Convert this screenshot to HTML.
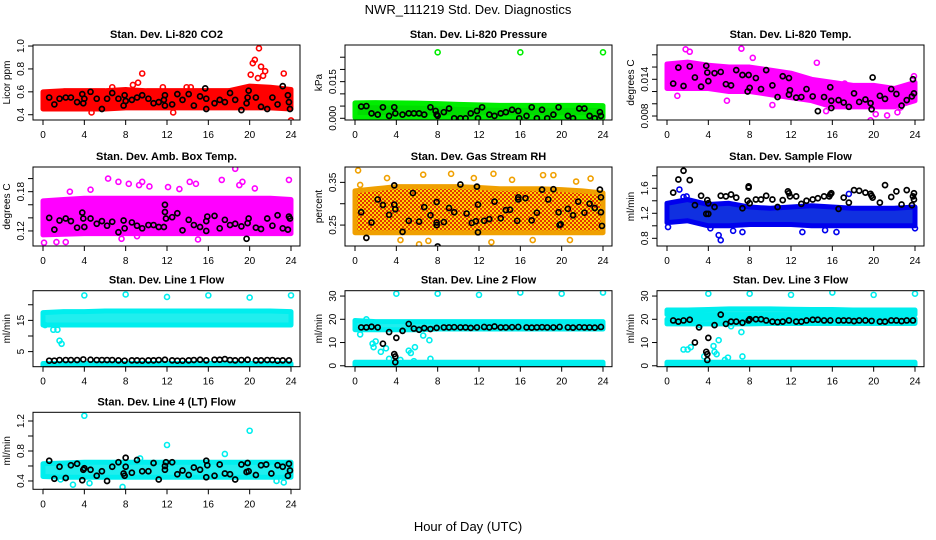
<!DOCTYPE html>
<html><head><meta charset="utf-8"><style>
body{margin:0;background:#fff}
svg{display:block;font-family:"Liberation Sans",Arial,sans-serif}
</style></head><body>
<svg id="chart" width="936" height="540" viewBox="0 0 936 540">
<defs>
<pattern id="rhpat" width="4" height="4" patternUnits="userSpaceOnUse">
<rect width="4" height="4" fill="#f8d800"/><rect width="2" height="2" fill="#e83000"/><rect x="2" y="2" width="2" height="2" fill="#e83000"/>
</pattern>
</defs>
<text x="468" y="14" text-anchor="middle" font-size="13">NWR_111219  Std. Dev. Diagnostics</text>
<text x="468" y="531" text-anchor="middle" font-size="13">Hour of Day (UTC)</text>
</svg>
<script>
const xTicks=[0,4,8,12,16,20,24];
const bandHours=[0,2,4,6,8,10,12,14,16,18,20,22,24];

// Panel 1 CO2
const co2Lo=[0.45,0.45,0.45,0.45,0.46,0.46,0.46,0.46,0.46,0.46,0.46,0.46,0.45];
const co2Hi=[0.6,0.61,0.61,0.61,0.62,0.61,0.61,0.61,0.61,0.61,0.65,0.64,0.62];
const co2Pts=[[9.6,0.76],[9.2,0.68],[8.7,0.66],[6.7,0.64],[20.3,0.85],[20.5,0.88],[20.9,0.98],[21.1,0.82],[21.5,0.78],[20.1,0.75],[20.8,0.72],[21.3,0.74],[23.3,0.76],[24,0.35],[12.6,0.42],[4.7,0.42],[14.3,0.64],[13.9,0.64],[11.6,0.64]];
const co2Blk=[[0.6,0.55],[1.1,0.49],[1.6,0.54],[2.2,0.55],[2.7,0.55],[3.3,0.51],[3.8,0.58],[3.9,0.50],[4.0,0.54],[4.6,0.6],[5.2,0.54],[5.7,0.45],[6.2,0.54],[6.7,0.59],[7.3,0.54],[7.8,0.48],[7.9,0.57],[8.0,0.52],[8.6,0.53],[9.1,0.55],[9.6,0.57],[10.2,0.54],[10.7,0.5],[11.2,0.51],[11.7,0.53],[11.8,0.57],[11.8,0.48],[12.5,0.49],[13.0,0.58],[13.5,0.53],[14.1,0.58],[14.6,0.48],[15.2,0.56],[15.7,0.63],[15.8,0.54],[15.8,0.45],[16.6,0.5],[17.1,0.53],[17.6,0.51],[18.1,0.59],[18.6,0.53],[19.2,0.44],[19.7,0.5],[19.8,0.55],[19.9,0.61],[20.6,0.55],[21.1,0.47],[21.7,0.45],[22.2,0.55],[22.7,0.49],[23.2,0.65],[23.7,0.57],[23.8,0.51],[23.9,0.45]];

// Panel 2 Pressure
const prLo=[0.0003,0.0003,0.0003,0.0003,0.0002,0.0002,0.0002,0.0002,0.0002,0.0002,0.0002,0.0002,0.0002];
const prHi=[0.0063,0.0064,0.0063,0.0062,0.006,0.0057,0.0055,0.0053,0.0053,0.0053,0.0053,0.0053,0.0052];
const prPts=[[8,0.027],[16,0.027],[24,0.027]];
const prBlk=[[0.6,0.0048],[1.1,0.005],[1.6,0.002],[2.2,0.0015],[2.7,0.0045],[3.3,0.001],[3.8,0.0045],[3.9,0.002],[4.6,0.0015],[5.2,0.002],[5.7,0.002],[6.2,0.002],[6.7,0.0015],[7.3,0.0045],[7.8,0.003],[7.9,0.0015],[8.0,0.001],[8.6,0.0025],[9.1,0.004],[9.6,0],[10.2,0],[10.7,0],[11.2,0.002],[11.8,0.003],[11.9,0],[12.3,0.0045],[13,0.0015],[13.5,0.001],[14.1,0.002],[14.6,0.0025],[15.2,0.0035],[15.8,0.003],[15.9,0],[16.6,0.001],[17.1,0.0045],[17.6,0],[18.1,0.0035],[18.6,0],[19.2,0.0015],[19.7,0.0045],[20.6,0.001],[21.1,0],[21.7,0.004],[22.2,0.004],[22.7,0.001],[23.2,0],[23.7,0.0025],[23.8,0.001]];

// Panel 3 Temp
const tLo=[0.0125,0.0125,0.0125,0.012,0.012,0.0115,0.011,0.0105,0.0095,0.0095,0.0095,0.0095,0.0105];
const tHi=[0.0165,0.0168,0.0163,0.016,0.016,0.0155,0.015,0.014,0.0135,0.013,0.013,0.0125,0.0135];
const tPts=[[1.8,0.0189],[2.2,0.0185],[7.2,0.019],[8.3,0.0175],[14.5,0.0167],[5.8,0.0105],[10.2,0.0098],[1.0,0.0113],[19.7,0.0073],[20.2,0.0083],[21.3,0.0081],[22.3,0.0086],[22.6,0.0094],[17.2,0.0133],[23.9,0.0145],[15.4,0.0088]];
const tBlk=[[0.6,0.0133],[1.1,0.0159],[1.6,0.0129],[2.2,0.0161],[2.7,0.0143],[3.3,0.0128],[3.8,0.0162],[3.9,0.0151],[4.0,0.0137],[4.6,0.015],[5.2,0.0152],[5.7,0.0132],[6.2,0.013],[6.7,0.0155],[7.3,0.0147],[7.9,0.0147],[7.8,0.012],[8.0,0.0126],[8.6,0.0142],[9.1,0.0124],[9.6,0.0155],[10.2,0.013],[10.7,0.0111],[11.2,0.0145],[11.8,0.0142],[11.8,0.0115],[11.9,0.0122],[12.5,0.011],[13,0.0111],[13.5,0.0124],[14.1,0.0112],[14.6,0.0088],[15.2,0.0111],[15.8,0.0127],[15.9,0.0105],[15.9,0.0093],[16.6,0.0106],[17.1,0.0102],[17.6,0.0095],[18.1,0.0117],[18.6,0.0103],[19.2,0.0107],[19.7,0.0101],[19.8,0.0091],[19.9,0.0143],[20.6,0.0113],[21.1,0.0108],[21.7,0.0124],[22.2,0.0116],[22.7,0.0097],[23.2,0.0106],[23.7,0.0112],[23.8,0.014],[23.9,0.0117]];

// Panel 4 Amb box
const abLo=[0.114,0.115,0.116,0.116,0.116,0.116,0.116,0.116,0.116,0.116,0.116,0.116,0.116];
const abHi=[0.166,0.168,0.17,0.17,0.17,0.17,0.17,0.17,0.17,0.17,0.17,0.17,0.168];
const abPts=[[0.1,0.102],[1.3,0.103],[2.2,0.103],[6.3,0.2],[7.3,0.195],[8.3,0.192],[9.3,0.19],[9.6,0.195],[10.3,0.188],[14.2,0.195],[14.8,0.192],[17.3,0.198],[18.6,0.215],[19,0.19],[19.3,0.195],[23.8,0.198],[15,0.107],[9.1,0.112],[7.6,0.108],[4.6,0.183],[2.6,0.18],[12.1,0.187],[13.2,0.184],[20.5,0.185]];
const abBlk=[[0.6,0.14],[1.1,0.122],[1.6,0.136],[2.2,0.139],[2.7,0.135],[3.3,0.125],[3.8,0.148],[3.9,0.139],[4.0,0.126],[4.6,0.139],[5.2,0.131],[5.7,0.135],[6.2,0.128],[6.7,0.134],[7.3,0.118],[7.8,0.136],[7.9,0.124],[8.6,0.133],[9.1,0.128],[9.6,0.124],[10.2,0.129],[10.7,0.129],[11.2,0.126],[11.7,0.126],[11.8,0.16],[11.8,0.149],[11.9,0.139],[12.5,0.141],[13,0.147],[13.5,0.121],[14.1,0.137],[14.6,0.129],[15.2,0.126],[15.8,0.12],[15.8,0.135],[15.9,0.142],[16.6,0.143],[17.1,0.124],[17.6,0.137],[18.1,0.129],[18.6,0.131],[19.2,0.127],[19.7,0.108],[19.8,0.132],[19.9,0.139],[20.6,0.125],[21.1,0.123],[21.7,0.139],[22.2,0.128],[22.7,0.144],[23.2,0.124],[23.7,0.122],[23.8,0.142],[23.9,0.139]];

// Panel 5 RH
const rhLo=[0.232,0.232,0.232,0.232,0.232,0.232,0.232,0.232,0.232,0.232,0.232,0.232,0.232];
const rhHi=[0.33,0.335,0.34,0.34,0.34,0.34,0.338,0.335,0.335,0.335,0.333,0.33,0.325];
const rhPts=[[0.3,0.378],[0.5,0.344],[3.1,0.36],[6.6,0.368],[7.1,0.213],[6.2,0.205],[9.3,0.37],[11.5,0.36],[13.4,0.37],[13.2,0.21],[15.2,0.356],[18.2,0.367],[19.2,0.367],[21.4,0.352],[22.8,0.359],[4.4,0.215],[17.2,0.215],[20.8,0.215],[1.1,0.22]];
const rhBlk=[[0.6,0.28],[1.1,0.22],[1.6,0.256],[2.2,0.31],[2.7,0.297],[3.3,0.274],[3.8,0.343],[3.9,0.287],[3.8,0.298],[4.6,0.234],[5.2,0.26],[5.6,0.325],[6.2,0.258],[6.7,0.292],[7.3,0.273],[7.9,0.256],[7.9,0.25],[7.9,0.304],[8.0,0.2],[8.6,0.257],[9.1,0.29],[9.6,0.28],[10.2,0.345],[10.8,0.277],[11.3,0.255],[11.7,0.259],[11.8,0.34],[11.9,0.233],[11.9,0.298],[12.5,0.26],[13.0,0.264],[13.5,0.305],[14.1,0.266],[14.6,0.285],[15.0,0.286],[15.7,0.26],[15.8,0.31],[15.8,0.315],[16.5,0.313],[17.1,0.261],[17.6,0.279],[18.1,0.333],[18.7,0.31],[19.2,0.334],[19.7,0.28],[19.8,0.25],[19.9,0.252],[20.6,0.288],[21.1,0.273],[21.6,0.305],[22.2,0.279],[22.7,0.3],[23.2,0.29],[23.7,0.333],[23.8,0.315],[23.9,0.248],[23.8,0.28]];

// Panel 6 Sample flow
const sfLo=[1.05,1.08,1.0,1.0,1.02,1.02,1.02,1.0,1.0,1.0,1.0,1.0,1.0];
const sfHi=[1.36,1.42,1.34,1.36,1.3,1.28,1.3,1.32,1.3,1.28,1.28,1.28,1.3];
const sfPts=[[0.1,0.98],[1.2,1.58],[5.0,0.85],[5.2,0.77],[4.2,0.96],[6.4,0.92],[7.3,0.9],[13.1,0.9],[16.4,0.9],[15.3,0.93],[17.6,1.51],[24.0,0.96],[1.6,1.46],[1.9,1.47]];
const sfBlk=[[0.6,1.53],[1.1,1.74],[1.6,1.88],[2.2,1.73],[2.7,1.33],[3.3,1.48],[3.8,1.19],[3.9,1.41],[4.0,1.36],[4.0,1.19],[4.6,1.3],[5.2,1.48],[5.7,1.47],[6.2,1.5],[6.7,1.45],[7.3,1.28],[7.9,1.63],[7.9,1.61],[7.8,1.4],[8.0,1.36],[8.6,1.42],[9.1,1.42],[9.6,1.48],[10.2,1.42],[10.7,1.3],[11.2,1.41],[11.7,1.55],[11.8,1.52],[11.9,1.47],[12.5,1.47],[13,1.35],[13.5,1.4],[14.1,1.42],[14.6,1.44],[15.2,1.47],[15.7,1.47],[15.8,1.5],[15.9,1.52],[16.6,1.27],[17.1,1.45],[17.6,1.37],[18.1,1.57],[18.6,1.56],[19.2,1.53],[19.7,1.51],[19.8,1.48],[19.9,1.45],[20.6,1.37],[21.1,1.65],[21.7,1.46],[22.2,1.55],[22.7,1.34],[23.2,1.57],[23.7,1.33],[23.8,1.47],[23.9,1.52],[23.9,1.42]];

// Panel 7 Line 1
const l1LoA=[13.5,13.5,13.5,13.5,13.5,13.5,13.5,13.5,13.5,13.5,13.5,13.5,13.5];
const l1HiA=[17.5,17.8,17.8,18,18,18,18,18,18,18,18,18,17.8];
const l1LoB=[0.3,0.3,0.3,0.3,0.3,0.3,0.3,0.3,0.3,0.3,0.3,0.3,0.3];
const l1HiB=[1.2,1.2,1.2,1.2,1.2,1.2,1.2,1.2,1.2,1.2,1.2,1.2,1.2];
const l1Pts=[[0.2,13.5],[1.0,12],[1.4,12],[1.6,8.5],[1.8,7.5],[4,23],[8,23.3],[12,22.5],[16,23],[20,22.3],[24,23]];
const l1Blk=[[0.6,2.1],[1.1,2.1],[1.6,2.3],[2.2,2.3],[2.7,2.3],[3.3,2.3],[3.9,2.5],[4.6,2.4],[5.2,2.3],[5.7,2.3],[6.2,2.3],[6.7,2.3],[7.3,2.2],[7.9,2.1],[8.6,2.2],[9.1,2.2],[9.6,2.1],[10.2,2.2],[10.7,2.2],[11.2,2.3],[11.8,2.4],[12.5,2.2],[13,2.1],[13.5,2.1],[14.1,2.2],[14.6,2.3],[15.2,2.4],[15.8,2.2],[16.6,2.4],[17.1,2.4],[17.6,2.6],[18.1,2.3],[18.6,2.2],[19.2,2.3],[19.8,2.4],[20.6,2.2],[21.1,2.2],[21.7,2.3],[22.2,2.3],[22.7,2.1],[23.2,2.2],[23.8,2.2]];

// Panel 8 Line 2
const l2LoA=[15.5,15.5,15.5,15.5,15.8,15.8,15.8,15.8,15.8,15.8,15.8,15.8,15.8];
const l2HiA=[19.5,19,19,19,19,19,19,19,19,19,19,19,19];
const l2LoB=[0,0,0,0,0,0,0,0,0,0,0,0,0];
const l2HiB=[1.5,1.5,1.5,1.5,1.5,1.5,1.5,1.5,1.5,1.5,1.5,1.5,1.5];
const l2Pts=[[0.5,13.5],[1.1,20],[1.5,18],[1.7,9.5],[1.8,8],[2.0,10.5],[2.5,6],[3.0,7.5],[3.3,3],[4,31],[4.4,2.5],[5.2,6.5],[5.4,5.5],[5.7,2],[5.8,8],[6.6,13],[7.2,11],[7.3,3],[8,31],[12,30.5],[16,31.5],[20,31],[24,31.5]];
const l2Blk=[[0.6,16.5],[1.1,16.5],[1.6,16.8],[2.2,16.5],[2.7,9.5],[3.3,14.5],[3.8,5],[3.9,4],[3.9,1.5],[4,12],[4.6,15],[5.2,18],[5.7,16],[6.2,15.5],[6.7,16.2],[7.3,15.8],[7.9,16.3],[8.6,16.5],[9.1,16.5],[9.6,16.6],[10.2,16.5],[10.7,16.5],[11.2,16.3],[11.8,16.5],[12.5,16.7],[13,16.5],[13.5,16.9],[14.1,16.5],[14.6,16.5],[15.2,16.6],[15.8,16.7],[16.6,16.5],[17.1,16.4],[17.6,16.5],[18.1,16.6],[18.6,16.5],[19.2,16.5],[19.8,16.7],[20.6,16.5],[21.1,16.4],[21.7,16.6],[22.2,16.5],[22.7,16.5],[23.2,16.4],[23.8,16.7]];

// Panel 9 Line 3
const l3LoA=[22,22,22,22,22,22,22,22,22,22,22,22,22];
const l3HiA=[24,24,24.2,24.5,24.5,24.5,24.3,24.2,24.2,24,24,24,24];
const l3LoM=[18,18,18,18,18,18.2,18.2,18.2,18.2,18.2,18.2,18.2,18.2];
const l3HiM=[20,20,20.5,20.5,20.5,20.5,20.3,20.3,20.3,20.3,20.3,20.3,20.3];
const l3LoB=[0,0,0,0,0,0,0,0,0,0,0,0,0];
const l3HiB=[1.5,1.5,1.5,1.5,1.5,1.5,1.5,1.5,1.5,1.5,1.5,1.5,1.5];
const l3Pts=[[1.6,7],[2.0,7],[2.3,8],[2.5,20],[3.2,17.5],[3.6,4],[4,31],[4.5,8.5],[4.6,6],[4.8,5],[5,11],[5.3,19],[5.6,2.5],[5.9,3.5],[6.2,17],[7.2,14.5],[7.3,4],[8,31],[12,30.5],[16,31.5],[20,30.5],[24,31]];
const l3Blk=[[0.6,19.5],[1.1,19],[1.6,19.5],[2.2,19.8],[2.7,10],[3.1,16.5],[3.8,6],[3.9,5],[3.9,2.5],[4,12],[4.6,17.5],[5.2,22],[5.7,18],[6.2,19],[6.7,19],[7.3,18.5],[7.9,19.5],[8,20],[8.6,20],[9.1,20],[9.6,19.5],[10.2,19],[10.7,18.8],[11.2,19],[11.8,19.5],[12.5,19],[13,19],[13.5,19.5],[14.1,19.8],[14.6,19.8],[15.2,19.5],[15.8,19.5],[16.6,19.5],[17.1,19.5],[17.6,19.5],[18.1,19.2],[18.6,19.5],[19.2,19.5],[19.8,19.3],[20.6,19],[21.1,19],[21.7,19.5],[22.2,19.5],[22.7,19.2],[23.2,19.5],[23.8,19.5]];

// Panel 10 Line 4
const l4Lo=[0.46,0.45,0.45,0.45,0.45,0.45,0.45,0.45,0.45,0.45,0.45,0.45,0.45];
const l4Hi=[0.63,0.64,0.65,0.65,0.65,0.65,0.65,0.65,0.65,0.65,0.65,0.65,0.65];
const l4Pts=[[4,1.27],[12,0.88],[20,1.07],[17.6,0.76],[2.9,0.35],[7.7,0.32],[4.5,0.37],[23.3,0.38],[22.6,0.4],[1.7,0.42],[9.4,0.7]];
const l4Blk=[[0.6,0.67],[1.1,0.43],[1.6,0.59],[2.2,0.44],[2.7,0.61],[3.3,0.63],[3.8,0.41],[3.9,0.55],[4.0,0.57],[4.6,0.55],[5.2,0.47],[5.7,0.53],[6.2,0.4],[6.7,0.59],[7.3,0.65],[7.8,0.5],[7.9,0.47],[8.0,0.71],[8.0,0.59],[8.6,0.51],[9.1,0.68],[9.6,0.53],[10.2,0.53],[10.7,0.64],[11.2,0.42],[11.8,0.6],[11.8,0.55],[11.9,0.65],[12.5,0.65],[13,0.49],[13.5,0.54],[14.1,0.48],[14.6,0.58],[15.2,0.55],[15.8,0.45],[15.8,0.67],[15.9,0.61],[16.6,0.47],[17.1,0.62],[17.6,0.5],[18.1,0.49],[18.6,0.42],[19.2,0.62],[19.7,0.52],[19.8,0.64],[19.9,0.53],[20.6,0.48],[21.1,0.61],[21.6,0.62],[22.1,0.5],[22.7,0.61],[23.2,0.59],[23.7,0.47],[23.8,0.63],[23.9,0.54]];

const colL=[33,345,657], boxW=267;
const rowT=[45,167,290.7,412.3], rowB=[120,246,366.7,489.3];
const NS='http://www.w3.org/2000/svg';
const svg=document.getElementById('chart');
function mk(tag,attrs,parent){const e=document.createElementNS(NS,tag);for(const k in attrs)e.setAttribute(k,attrs[k]);(parent||svg).appendChild(e);return e;}

const panels=[
 {c:0,r:0,key:'co2',title:'Stan. Dev. Li-820 CO2',yl:'Licor ppm',ymin:0.354,ymax:1.009,ticks:[0.4,0.6,0.8,1.0],labs:['0.4','0.6','0.8','1.0'],col:'#ff0000',fill:'#ff0000',bands:[[co2Lo,co2Hi]],pts:co2Pts,blk:co2Blk},
 {c:1,r:0,key:'pressure',title:'Stan. Dev. Li-820 Pressure',yl:'kPa',ymin:-0.0007,ymax:0.030,ticks:[0,0.005,0.01,0.015,0.02,0.025],labs:['0.000','','','0.015','',''],col:'#00ee00',fill:'#00dd00',bands:[[prLo,prHi]],pts:prPts,blk:prBlk},
 {c:2,r:0,key:'temp',title:'Stan. Dev. Li-820 Temp.',yl:'degrees C',ymin:0.00735,ymax:0.0196,ticks:[0.008,0.01,0.012,0.014,0.016,0.018],labs:['0.008','','','0.014','',''],col:'#ff00ff',fill:'#ff00ff',bands:[[tLo,tHi]],pts:tPts,blk:tBlk},
 {c:0,r:1,key:'ambbox',title:'Stan. Dev. Amb. Box Temp.',yl:'degrees C',ymin:0.097,ymax:0.2177,ticks:[0.12,0.14,0.16,0.18,0.2],labs:['0.12','','','0.18',''],col:'#ff00ff',fill:'#ff00ff',bands:[[abLo,abHi]],pts:abPts,blk:abBlk},
 {c:1,r:1,key:'rh',title:'Stan. Dev. Gas Stream RH',yl:'percent',ymin:0.201,ymax:0.386,ticks:[0.25,0.3,0.35],labs:['0.25','','0.35'],col:'#f0a000',fill:'url(#rhpat)',bands:[[rhLo,rhHi]],pts:rhPts,blk:rhBlk},
 {c:2,r:1,key:'sampleflow',title:'Stan. Dev. Sample Flow',yl:'ml/min',ymin:0.677,ymax:1.94,ticks:[0.8,1.0,1.2,1.4,1.6,1.8],labs:['0.8','','1.2','','1.6',''],col:'#0000ee',fill:'#1030e0',bands:[[sfLo,sfHi]],pts:sfPts,blk:sfBlk},
 {c:0,r:2,key:'line1',title:'Stan. Dev. Line 1 Flow',yl:'ml/min',ymin:0.17,ymax:24.5,ticks:[5,10,15,20],labs:['5','','15',''],col:'#00eeee',fill:'#20eeee',bands:[[l1LoA,l1HiA],[l1LoB,l1HiB]],pts:l1Pts,blk:l1Blk},
 {c:1,r:2,key:'line2',title:'Stan. Dev. Line 2 Flow',yl:'ml/min',ymin:-0.4,ymax:32.3,ticks:[0,10,20,30],labs:['0','10','20','30'],col:'#00eeee',fill:'#20eeee',bands:[[l2LoA,l2HiA],[l2LoB,l2HiB]],pts:l2Pts,blk:l2Blk},
 {c:2,r:2,key:'line3',title:'Stan. Dev. Line 3 Flow',yl:'ml/min',ymin:-0.4,ymax:32.3,ticks:[0,10,20,30],labs:['0','10','20','30'],col:'#00eeee',fill:'#20eeee',bands:[[l3LoA,l3HiA],[l3LoM,l3HiM],[l3LoB,l3HiB]],pts:l3Pts,blk:l3Blk},
 {c:0,r:3,key:'line4',title:'Stan. Dev. Line 4 (LT) Flow',yl:'ml/min',ymin:0.289,ymax:1.316,ticks:[0.4,0.6,0.8,1.0,1.2],labs:['0.4','','0.8','','1.2'],col:'#00eeee',fill:'#20eeee',bands:[[l4Lo,l4Hi]],pts:l4Pts,blk:l4Blk}
];

panels.forEach(p=>{
  const L=colL[p.c], R=L+boxW, T=rowT[p.r], B=rowB[p.r];
  const xs=h=>L+10+h*(boxW-19)/24;
  const ys=v=>B-(v-p.ymin)/(p.ymax-p.ymin)*(B-T);
  const g=mk('g',{});
  
  
  const t=mk('text',{x:(L+R)/2,y:T-7,'text-anchor':'middle','font-size':11,'font-weight':'bold'},g);
  t.textContent=p.title;
  
  
  const yl=mk('text',{x:0,y:0,'text-anchor':'middle','font-size':10,transform:`translate(${L-23},${(T+B)/2}) rotate(-90)`},g);
  yl.textContent=p.yl;
  
  
  const clip=mk('clipPath',{id:'clip'+p.key},g);
  mk('rect',{x:L,y:T,width:boxW,height:B-T},clip);
  const pg=mk('g',{'clip-path':`url(#clip${p.key})`},g);
  p.bands.forEach((bd,bi)=>{
    const lo=bd[0], hi=bd[1];
    let d='';
    bandHours.forEach((h,i)=>{d+=(i?'L':'M')+xs(h)+','+ys(hi[i])+' ';});
    for(let i=bandHours.length-1;i>=0;i--)d+='L'+xs(bandHours[i])+','+ys(lo[i])+' ';
    const b=mk('path',{d:d+'Z',fill:p.fill,stroke:p.col,'stroke-width':5,'stroke-linejoin':'round'},pg);
    
    
  });
  p.pts.forEach(q=>{
    const c=mk('circle',{cx:xs(q[0]),cy:ys(q[1]),r:2.5,fill:'none',stroke:p.col,'stroke-width':1.6},pg);
    
    
  });
  p.blk.forEach(q=>{
    const c=mk('circle',{cx:xs(q[0]),cy:ys(q[1]),r:2.5,fill:'none',stroke:'#000','stroke-width':1.7},pg);
    
    
  });
  const box=mk('rect',{x:L,y:T,width:boxW,height:B-T,fill:'none',stroke:'#000','stroke-width':1},g);
  
  
  // x axis
  mk('line',{x1:xs(0),x2:xs(24),y1:B,y2:B,stroke:'#000'},g);
  xTicks.forEach(h=>{
    mk('line',{x1:xs(h),x2:xs(h),y1:B,y2:B+5,stroke:'#000'},g);
    const tl=mk('text',{x:xs(h),y:B+18,'text-anchor':'middle','font-size':10},g);
    tl.textContent=h;
    
    
  });
  // y axis
  const y0=ys(p.ticks[0]), y1=ys(p.ticks[p.ticks.length-1]);
  mk('line',{x1:L,x2:L,y1:y0,y2:y1,stroke:'#000'},g);
  p.ticks.forEach((v,i)=>{
    mk('line',{x1:L-5,x2:L,y1:ys(v),y2:ys(v),stroke:'#000'},g);
    if(p.labs[i]){
      const tl=mk('text',{x:0,y:0,'text-anchor':'middle','font-size':10,transform:`translate(${L-9},${ys(v)}) rotate(-90)`},g);
      tl.textContent=p.labs[i];
      
      
    }
  });
});
</script>
</body></html>
